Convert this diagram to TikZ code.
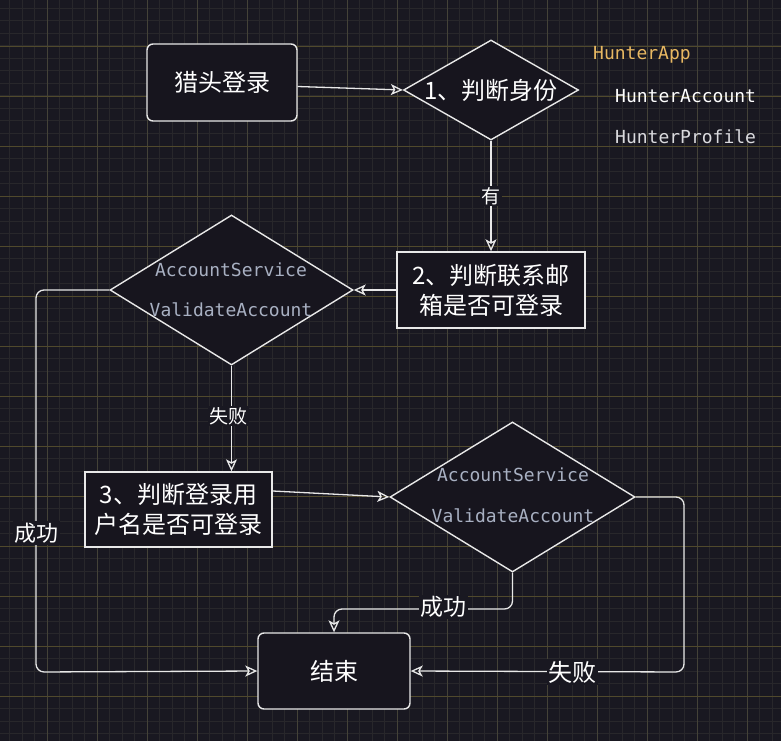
\documentclass[tikz,border=0pt]{standalone}
\usepackage{fontspec}
\setmainfont{Noto Sans CJK SC}
\newfontfamily\codefont{DejaVu Sans Mono}
\usetikzlibrary{arrows.meta,shapes.geometric}

\definecolor{bgc}{RGB}{25,24,33}
\definecolor{boxfill}{RGB}{23,21,30}
\definecolor{minorc}{RGB}{40,39,43}
\definecolor{majorh}{RGB}{80,73,44}
\definecolor{majorv}{RGB}{68,66,56}
\definecolor{ink}{RGB}{232,232,232}
\definecolor{codec}{RGB}{168,176,194}
\definecolor{goldc}{RGB}{232,184,98}
\definecolor{profc}{RGB}{218,218,222}

\tikzset{
  shapeline/.style={draw=ink, line width=1.4pt, fill=boxfill, text=white},
  rbox/.style={shapeline, rectangle, rounded corners=6pt, inner sep=0pt,
    font=\fontsize{24}{30}\selectfont, align=center},
  sbox/.style={shapeline, rectangle, inner sep=0pt,
    font=\fontsize{24}{30}\selectfont, align=center},
  dia/.style={shapeline, diamond, inner sep=0pt},
  diatext/.style={text=white, font=\fontsize{24}{30}\selectfont},
  code/.style={font=\codefont\fontsize{18}{22}\selectfont, inner sep=0pt},
  conn/.style={draw=ink, line width=1.3pt,
    -{Stealth[open,length=12pt,width=11pt,inset=3pt]}},
  lbl/.style={fill=bgc, text=white, inner sep=1.5pt},
}

\begin{document}
\begin{tikzpicture}[x=1pt,y=-1pt]
  % canvas and grid
  \fill[bgc] (0,0) rectangle (781,741);
  \useasboundingbox (0,0) rectangle (781,741);
  \begin{scope}
    \clip (0,0) rectangle (781,741);
    \foreach \k in {0,...,63}
      \draw[minorc, line width=1pt] ({-2.7+12.5*\k},0) -- ({-2.7+12.5*\k},741);
    \foreach \k in {0,...,60}
      \draw[minorc, line width=1pt] (0,{-4+12.5*\k}) -- (781,{-4+12.5*\k});
    \foreach \k in {0,...,16}
      \draw[majorv, line width=0.8pt] ({-2.7+50*\k},0) -- ({-2.7+50*\k},741);
    \foreach \k in {0,...,15}
      \draw[majorh, line width=0.8pt] (0,{-4+50*\k}) -- (781,{-4+50*\k});
  \end{scope}

  % process boxes
  \node[rbox, minimum width=150pt, minimum height=77pt] (login) at (222,82.5) {猎头登录};
  \node[sbox, minimum width=188pt, minimum height=76pt] (r2) at (491,290)
    {2、判断联系邮\\箱是否可登录};
  \node[sbox, minimum width=187pt, minimum height=75pt] (r3) at (178.5,509.5)
    {3、判断登录用\\户名是否可登录};
  \node[rbox, minimum width=152pt, minimum height=76pt] (end) at (334,671) {结束};

  % decisions
  \node[dia, minimum width=175pt, minimum height=100pt] (d1) at (491,90) {};
  \node[diatext] (d1t) at (491,90) {1、判断身份};
  \node[dia, minimum width=243pt, minimum height=150pt] (dA) at (231.5,290) {};
  \node[code, text=codec] (dAt1) at (231,270) {AccountService};
  \node[code, text=codec] (dAt2) at (231,310) {ValidateAccount};
  \node[dia, minimum width=245pt, minimum height=150pt] (dB) at (512.5,497) {};
  \node[code, text=codec] (dBt1) at (513,475) {AccountService};
  \node[code, text=codec] (dBt2) at (513,516) {ValidateAccount};

  % side legend
  \node[code, text=goldc, anchor=west] (app) at (593,55) {HunterApp};
  \node[code, text=white, anchor=west] (acct) at (615,96) {HunterAccount};
  \node[code, text=profc, anchor=west] (prof) at (615,137) {HunterProfile};

  % connectors
  \coordinate (lc) at (36,672);
  \coordinate (m2) at (334,609);
  \coordinate (rc) at (684,672);

  \draw[conn] ([yshift=-4pt]login.east) -- (d1.west);
  \draw[conn] (d1.south) -- (r2.north);
  \draw[conn] (r2.west) -- (dA.east);
  \draw[conn, rounded corners=8pt] (dA.west) -| (lc) -- (end.west);
  \draw[conn] (dA.south) -- (dA.south |- r3.north);
  \draw[conn] ([yshift=18.5pt]r3.east) -- (dB.west);
  \draw[conn, rounded corners=8pt] (dB.south) |- (m2) -- (end.north);
  \draw[conn, rounded corners=8pt] (dB.east) -| (rc) -- (end.east);

  % connector labels
  \node[lbl, font=\fontsize{19}{22}\selectfont] (l1) at (491,196) {有};
  \node[lbl, font=\fontsize{22}{26}\selectfont] (l2) at (36,533) {成功};
  \node[lbl, font=\fontsize{19}{22}\selectfont] (l3) at (228,416) {失败};
  \node[lbl, font=\fontsize{23}{26}\selectfont] (l4) at (443,607) {成功};
  \node[lbl, font=\fontsize{24}{26}\selectfont] (l5) at (572,672) {失败};
\end{tikzpicture}
\end{document}
